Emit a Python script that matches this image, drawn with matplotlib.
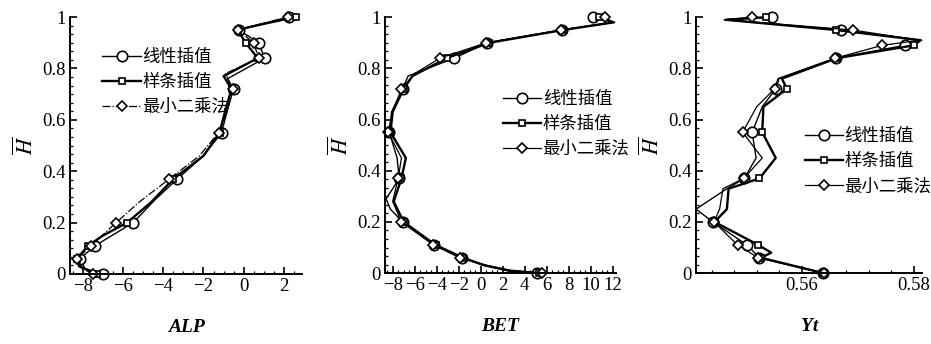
import matplotlib
matplotlib.use('Agg')
import matplotlib.pyplot as plt
from matplotlib.ticker import AutoMinorLocator

plt.rcParams['font.family'] = ['Liberation Serif', 'DejaVu Serif']
plt.rcParams['mathtext.fontset'] = 'stix'

labels = ['线性插值', '样条插值', '最小二乘法']

# ALP panel
alp_lin_h = [0.0, 0.02, 0.06, 0.11, 0.2, 0.29, 0.37, 0.46, 0.55, 0.64, 0.72, 0.76, 0.84, 0.9, 0.95, 1.0]
alp_lin_x = [-7.0, -7.9, -8.15, -7.4, -5.5, -4.4, -3.3, -2.0, -1.1, -0.8, -0.5, -0.8, 1.05, 0.75, -0.25, 2.25]
alp_lin_m = [0, 2, 3, 4, 6, 8, 10, 12, 13, 14, 15]
alp_spl_h = [0.0, 0.03, 0.06, 0.11, 0.15, 0.2, 0.28, 0.37, 0.46, 0.55, 0.64, 0.72, 0.77, 0.84, 0.9, 0.95, 0.97, 1.0]
alp_spl_x = [-7.3, -8.2, -8.3, -7.75, -7.0, -5.8, -4.6, -3.5, -2.0, -1.2, -0.9, -0.6, -1.0, 0.7, 0.1, -0.3, 0.8, 2.6]
alp_spl_m = [0, 2, 3, 5, 7, 9, 11, 13, 14, 15, 17]
alp_ls_h = [0.0, 0.02, 0.06, 0.11, 0.2, 0.28, 0.37, 0.46, 0.55, 0.64, 0.72, 0.78, 0.84, 0.9, 0.95, 1.0]
alp_ls_x = [-7.5, -8.0, -8.3, -7.6, -6.35, -5.2, -3.7, -2.2, -1.25, -0.8, -0.55, -0.9, 0.75, 0.5, -0.3, 2.2]
alp_ls_m = [0, 2, 3, 4, 6, 8, 10, 12, 13, 14, 15]

# BET panel
bet_lin_h = [0.0, 0.01, 0.03, 0.06, 0.11, 0.2, 0.25, 0.29, 0.37, 0.45, 0.55, 0.63, 0.72, 0.77, 0.84, 0.9, 0.95, 0.98, 1.0]
bet_lin_x = [5.1, 2.4, 0.3, -1.7, -4.2, -7.1, -8.2, -8.6, -7.4, -7.6, -8.3, -8.1, -7.1, -6.6, -2.4, 0.6, 7.4, 12.2, 10.2]
bet_lin_m = [0, 3, 4, 5, 8, 10, 12, 14, 15, 16, 18]
bet_spl_h = [0.0, 0.01, 0.03, 0.06, 0.11, 0.2, 0.28, 0.37, 0.45, 0.55, 0.63, 0.72, 0.77, 0.84, 0.9, 0.95, 0.98, 1.0]
bet_spl_x = [5.3, 2.6, 0.4, -1.6, -4.1, -7.0, -7.9, -7.2, -6.8, -8.2, -8.0, -7.0, -6.2, -3.1, 0.8, 7.5, 12.1, 10.8]
bet_spl_m = [0, 3, 4, 5, 7, 9, 11, 13, 14, 15, 17]
bet_ls_h = [0.0, 0.01, 0.03, 0.06, 0.11, 0.2, 0.28, 0.37, 0.45, 0.55, 0.63, 0.72, 0.78, 0.84, 0.9, 0.95, 0.98, 1.0]
bet_ls_x = [5.6, 2.8, 0.6, -1.9, -4.3, -7.2, -8.0, -7.5, -7.2, -8.4, -8.0, -7.2, -6.0, -3.7, 0.5, 7.3, 12.0, 11.3]
bet_ls_m = [0, 3, 4, 5, 7, 9, 11, 13, 14, 15, 17]

# Yt panel
yt_lin_h = [0.0, 0.06, 0.11, 0.2, 0.25, 0.33, 0.37, 0.45, 0.55, 0.65, 0.72, 0.76, 0.84, 0.89, 0.91, 0.95, 0.99, 1.0]
yt_lin_x = [0.5639, 0.5525, 0.5503, 0.5442, 0.5412, 0.5467, 0.5498, 0.5519, 0.5512, 0.5530, 0.5554, 0.5560, 0.5661, 0.5784, 0.5814, 0.5670, 0.5463, 0.5547]
yt_lin_m = [0, 1, 2, 3, 6, 8, 10, 12, 13, 15, 17]
yt_spl_h = [0.0, 0.06, 0.08, 0.11, 0.2, 0.25, 0.33, 0.37, 0.45, 0.55, 0.65, 0.72, 0.76, 0.84, 0.89, 0.91, 0.95, 0.99, 1.0]
yt_spl_x = [0.5639, 0.5528, 0.5546, 0.5523, 0.5445, 0.5467, 0.5470, 0.5525, 0.5554, 0.5530, 0.5532, 0.5574, 0.5565, 0.5663, 0.5800, 0.5812, 0.5661, 0.5465, 0.5537]
yt_spl_m = [0, 1, 3, 4, 7, 9, 11, 13, 14, 16, 18]
yt_ls_h = [0.0, 0.06, 0.11, 0.2, 0.25, 0.33, 0.37, 0.45, 0.55, 0.65, 0.72, 0.76, 0.84, 0.89, 0.91, 0.95, 0.99, 1.0]
yt_ls_x = [0.5640, 0.5523, 0.5486, 0.5444, 0.5454, 0.5460, 0.5497, 0.5530, 0.5495, 0.5520, 0.5552, 0.5558, 0.5660, 0.5744, 0.5810, 0.5691, 0.5462, 0.5512]
yt_ls_m = [0, 1, 2, 3, 6, 8, 10, 12, 13, 15, 17]

fig = plt.figure(figsize=(9.31, 3.44), dpi=100)

panels = [
    ([0.0752, 0.2035, 0.249, 0.747], 'ALP', (-8.65, 2.9), [-8, -6, -4, -2, 0, 2], ['−8', '−6', '−4', '−2', '0', '2'], 4,
     [(alp_lin_x, alp_lin_h, alp_lin_m), (alp_spl_x, alp_spl_h, alp_spl_m), (alp_ls_x, alp_ls_h, alp_ls_m)],
     (0.14, 0.88), '-.'),
    ([0.4135, 0.206, 0.248, 0.744], 'BET', (-8.7, 12.3), [-8, -6, -4, -2, 0, 2, 4, 6, 8, 10, 12],
     ['−8', '−6', '−4', '−2', '0', '2', '4', '6', '8', '10', '12'], 4,
     [(bet_lin_x, bet_lin_h, bet_lin_m), (bet_spl_x, bet_spl_h, bet_spl_m), (bet_ls_x, bet_ls_h, bet_ls_m)],
     (0.51, 0.715), '-'),
    ([0.7476, 0.206, 0.243, 0.744], 'Yt', (0.5412, 0.5815), [0.56, 0.58], ['0.56', '0.58'], 5,
     [(yt_lin_x, yt_lin_h, yt_lin_m), (yt_spl_x, yt_spl_h, yt_spl_m), (yt_ls_x, yt_ls_h, yt_ls_m)],
     (0.48, 0.57), '-'),
]

markers = ['o', 's', 'D']
msizes = [7.5, 5, 5.5]
widths = [1.0, 1.7, 0.9]

for rect, name, xlim, xt, xtl, nminor, series, legpos, ls3 in panels:
    ax = fig.add_axes(rect)
    for i, (xs, hs, mk) in enumerate(series):
        style = '-' if i < 2 else ls3
        ax.plot(xs, hs, color='black', linestyle=style, linewidth=widths[i],
                marker=markers[i], markersize=msizes[i], markerfacecolor='white',
                markeredgecolor='black', markeredgewidth=1.2, markevery=mk,
                label=labels[i], clip_on=False)
    ax.set_xlim(*xlim)
    ax.set_ylim(0, 1)
    ax.set_xticks(xt)
    ax.set_xticklabels(xtl)
    ax.set_yticks([0, 0.2, 0.4, 0.6, 0.8, 1.0])
    ax.set_yticklabels(['0', '0.2', '0.4', '0.6', '0.8', '1'])
    ax.xaxis.set_minor_locator(AutoMinorLocator(nminor))
    ax.yaxis.set_minor_locator(AutoMinorLocator(6))
    ax.tick_params(which='both', direction='in', labelsize=13.5, pad=3)
    ax.tick_params(which='major', length=5, width=1.2)
    ax.tick_params(which='minor', length=2.5, width=0.9)
    for s in ['top', 'right']:
        ax.spines[s].set_visible(False)
    for s in ['left', 'bottom']:
        ax.spines[s].set_linewidth(1.4)
    ax.set_xlabel(name, fontsize=14, fontstyle='italic', fontweight='bold', labelpad=17)
    ax.set_ylabel(r'$\overline{\mathit{H}}$', fontsize=16, labelpad=3)
    ax.legend(loc='upper left', bbox_to_anchor=legpos, frameon=False, numpoints=1,
              handlelength=2.2, handletextpad=0.1, labelspacing=0.4, borderpad=0,
              borderaxespad=0, prop={'family': ['Noto Sans CJK SC'], 'size': 12.5})

fig.savefig('out.png', dpi=100)
